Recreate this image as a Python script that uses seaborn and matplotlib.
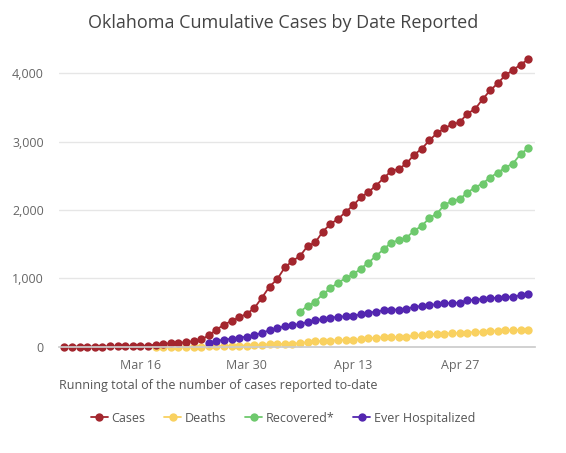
import numpy as np
import pandas as pd
import seaborn as sns
import matplotlib.pyplot as plt
from matplotlib.lines import Line2D

# cumulative counts
cases = [1, 1, 1, 1, 2, 2, 3, 4, 4, 7, 10, 17, 29, 44, 49, 53, 67, 81, 106, 164,
         248, 322, 377, 429, 481, 565, 719, 879, 988, 1159, 1252, 1327, 1472, 1524,
         1684, 1794, 1868, 1970, 2069, 2184, 2263, 2357, 2465, 2570, 2599, 2680,
         2807, 2894, 3017, 3121, 3193, 3253, 3280, 3410, 3473, 3618, 3748, 3851,
         3972, 4044, 4127, 4201]
deaths = [0, 1, 1, 1, 2, 2, 2, 5, 7, 8, 15, 16, 17, 23, 30, 34, 38, 42, 46, 51,
          67, 79, 80, 88, 94, 99, 99, 108, 123, 131, 136, 139, 140, 143, 164, 170,
          179, 188, 191, 195, 197, 207, 214, 222, 230, 234, 238, 241, 247, 250]
hospitalized = [60, 85, 100, 118, 132, 147, 167, 205, 240, 270, 300, 318, 330,
                362, 388, 402, 425, 435, 445, 450, 474, 498, 512, 532, 541, 543,
                556, 581, 595, 610, 620, 634, 639, 644, 678, 688, 698, 708, 717,
                727, 732, 752, 766]
recovered = [512, 596, 659, 766, 854, 937, 1001, 1059, 1142, 1230, 1328, 1425,
             1523, 1557, 1596, 1694, 1767, 1879, 1947, 2074, 2133, 2157, 2254,
             2328, 2386, 2474, 2547, 2620, 2679, 2816, 2904]

dates = pd.date_range("2020-03-06", "2020-05-06")
series_names = ["Cases", "Deaths", "Recovered*", "Ever Hospitalized"]
colors = ["#a3262e", "#f9d160", "#6ec96d", "#5326b0"]
tick_dates = pd.to_datetime(["2020-03-16", "2020-03-30", "2020-04-13", "2020-04-27"])
tick_labels = ["Mar 16", "Mar 30", "Apr 13", "Apr 27"]

frames = []
for name, vals in zip(series_names, [cases, deaths, recovered, hospitalized]):
    frames.append(pd.DataFrame({"date": dates[len(dates) - len(vals):],
                                "value": vals, "series": name}))
df = pd.concat(frames, ignore_index=True)

sns.set_theme(style="white")
plt.rcParams["font.family"] = ["Open Sans", "DejaVu Sans"]

fig = plt.figure(figsize=(5.66, 4.53), dpi=100)
ax = fig.add_axes([0.1042, 0.2347, 0.841, 0.655])

draw_order = ["Deaths", "Recovered*", "Ever Hospitalized", "Cases"]
for name in draw_order:
    sub = df[df["series"] == name]
    c = colors[series_names.index(name)]
    sns.lineplot(data=sub, x="date", y="value", ax=ax, color=c, marker="o",
                 markersize=6, markeredgewidth=0, linewidth=1.3, clip_on=False)

ax.set_xlim(pd.Timestamp("2020-03-06") - pd.Timedelta(days=0.7),
            pd.Timestamp("2020-05-06") + pd.Timedelta(days=0.9))
ax.set_ylim(0, 4340)
ax.set_yticks([0, 1000, 2000, 3000, 4000])
ax.set_yticklabels(["0", "1,000", "2,000", "3,000", "4,000"])
ax.set_xticks(tick_dates)
ax.set_xticklabels(tick_labels)
ax.grid(axis="y", color="#e6e6e6", linewidth=1)
ax.set_axisbelow(True)
for s in ["top", "right", "left"]:
    ax.spines[s].set_visible(False)
ax.spines["bottom"].set_color("#cccccc")
ax.tick_params(axis="both", length=0, labelsize=9, colors="#666666")
ax.tick_params(axis="x", pad=9)
ax.tick_params(axis="y", pad=11)
ax.set_xlabel("")
ax.set_ylabel("")

fig.text(0.5, 0.95, "Oklahoma Cumulative Cases by Date Reported", ha="center",
         va="center", fontsize=13, color="#444444")
fig.text(0.1042, 0.15, "Running total of the number of cases reported to-date",
         ha="left", va="center", fontsize=9, color="#555555")

handles = [Line2D([], [], color=c, marker="o", markersize=6, markeredgewidth=0,
                  linewidth=1.3) for c in colors]
fig.legend(handles, series_names, loc="center", bbox_to_anchor=(0.5, 0.077),
           ncol=4, frameon=False, fontsize=9, handlelength=1.35,
           columnspacing=1.5, handletextpad=0.3, labelcolor="#555555")

fig.savefig("out.png", dpi=100)
